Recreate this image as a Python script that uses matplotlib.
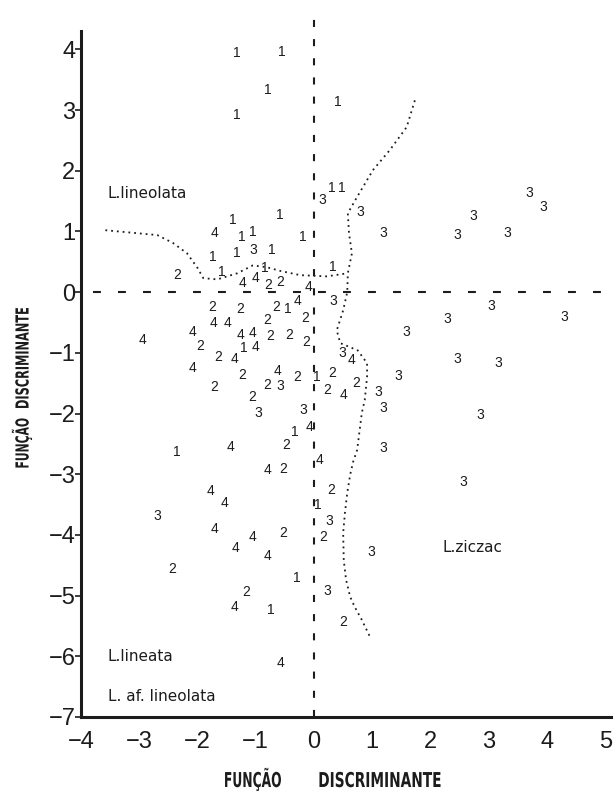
import numpy as np
import matplotlib
matplotlib.use("Agg")
import matplotlib.pyplot as plt
import matplotlib.transforms as mtransforms
from matplotlib.textpath import TextPath
from matplotlib.patches import PathPatch
from matplotlib.font_manager import FontProperties

# pontos, por grupo (1 a 4)
g1_x = [-1.32, -0.55, -0.79, -1.32, 0.41, 0.31, 0.48, -1.39, -0.58, -1.24, -1.05, -0.19, -1.73,
        -1.32, -0.72, -1.58, -0.84, 0.33, -0.45, -1.20, 0.05, -0.33, -2.35, 0.07, -0.29, -0.74]
g1_y = [3.94, 3.95, 3.33, 2.92, 3.13, 1.71, 1.71, 1.19, 1.27, 0.91, 0.99, 0.91, 0.58,
        0.64, 0.69, 0.33, 0.40, 0.41, -0.28, -0.92, -1.40, -2.31, -2.63, -3.51, -4.71, -5.24]

g2_x = [-2.35, -0.79, -0.58, -1.75, -1.27, -0.65, -0.81, -0.15, -0.75, -0.43, -0.14, -1.96, -1.65,
        -1.24, -0.29, 0.31, -1.72, -0.81, 0.22, 0.72, -1.06, -0.48, -0.53, 0.29, -0.53, 0.15,
        -2.44, -1.17, 0.50]
g2_y = [0.28, 0.12, 0.16, -0.25, -0.28, -0.25, -0.46, -0.43, -0.72, -0.71, -0.82, -0.89, -1.07,
        -1.37, -1.40, -1.33, -1.56, -1.53, -1.61, -1.50, -1.73, -2.52, -2.92, -3.26, -3.97, -4.04,
        -4.56, -4.94, -5.44]

g3_x = [0.15, 0.79, 1.18, 2.45, 2.73, 3.31, 3.69, 3.93, -1.05, 0.33, 3.05, 2.28, 4.29, 1.58,
        0.48, 2.45, 3.17, 1.44, -0.58, 1.10, 1.18, 2.85, -0.96, -0.19, 1.18, 2.56, -2.69, 0.26,
        0.98, 0.22]
g3_y = [1.52, 1.32, 0.97, 0.94, 1.25, 0.97, 1.63, 1.40, 0.69, -0.15, -0.23, -0.45, -0.41, -0.66,
        -1.00, -1.10, -1.17, -1.38, -1.55, -1.65, -1.91, -2.03, -1.99, -1.94, -2.57, -3.13, -3.69,
        -3.77, -4.28, -4.93]

g4_x = [-1.70, -1.22, -1.01, -0.10, -0.29, -1.72, -1.49, -2.08, -2.95, -1.27, -1.06, -1.37, -1.01,
        -2.08, -0.63, 0.50, 0.65, -0.07, -1.44, 0.10, -0.79, -1.78, -1.53, -1.70, -1.05, -1.34,
        -0.79, -1.37, -0.58]
g4_y = [0.97, 0.15, 0.23, 0.08, -0.15, -0.51, -0.51, -0.66, -0.79, -0.71, -0.68, -1.10, -0.90,
        -1.25, -1.30, -1.70, -1.12, -2.22, -2.55, -2.77, -2.93, -3.28, -3.47, -3.90, -4.04, -4.22,
        -4.35, -5.19, -6.11]

grupos = [("1", g1_x, g1_y), ("2", g2_x, g2_y), ("3", g3_x, g3_y), ("4", g4_x, g4_y)]

# linhas pontilhadas de separação
arco_x = [-3.58, -2.69, -2.42, -2.18, -2.00, -1.90, -1.66, -1.32, -1.05, -0.81, -0.58, -0.24, 0.22, 0.57]
arco_y = [1.02, 0.94, 0.81, 0.64, 0.40, 0.23, 0.21, 0.31, 0.44, 0.41, 0.35, 0.28, 0.26, 0.31]

curva_x = [1.73, 1.59, 1.30, 1.01, 0.74, 0.58, 0.60, 0.65, 0.58, 0.57, 0.50, 0.39, 0.45, 0.75, 0.91,
           0.91, 0.87, 0.82, 0.79, 0.74, 0.67, 0.62, 0.57, 0.53, 0.50, 0.51, 0.55, 0.62, 0.70, 0.82, 0.96]
curva_y = [3.16, 2.72, 2.34, 2.01, 1.57, 1.30, 0.97, 0.64, 0.31, 0.00, -0.30, -0.63, -0.84, -0.96, -1.17,
           -1.40, -1.78, -1.99, -2.22, -2.60, -2.80, -3.01, -3.31, -3.64, -3.97, -4.42, -4.74, -5.02,
           -5.19, -5.40, -5.68]

rotulos = [("L.lineolata", -3.55, 1.63), ("L.ziczac", 2.2, -4.2),
           ("L.lineata", -3.55, -6.01), ("L. af. lineolata", -3.53, -6.67)]

cor = "#1c1c1c"
fig = plt.figure(figsize=(6.13, 7.91), dpi=100)
ax = fig.add_axes([0.132, 0.0936, 0.868, 0.867])

for lab, xs, ys in grupos:
    for x, y in zip(xs, ys):
        ax.text(x, y, lab, ha="center", va="center", fontsize=10, color=cor,
                family="Liberation Sans")

ax.plot(arco_x, arco_y, linestyle=(0, (1, 2.2)), color=cor, lw=1.3)
ax.plot(curva_x, curva_y, linestyle=(0, (1, 2.2)), color=cor, lw=1.3)

ax.plot([-3.8, 5.0], [0, 0], linestyle=(0, (3.8, 8.2)), color=cor, lw=1.5)
ax.plot([0, 0], [-7, 4.6], linestyle=(0, (3.4, 5.8)), color=cor, lw=1.5, clip_on=False)

for txt, x, y in rotulos:
    ax.text(x, y, txt, ha="left", va="center", fontsize=11, color=cor, family="DejaVu Sans")

ax.set_xlim(-4, 5.13)
ax.set_ylim(-7, 4.3)
ax.set_xticks(np.arange(-4, 6))
ax.set_yticks(np.arange(-7, 5))
for s in ["top", "right"]:
    ax.spines[s].set_visible(False)
for s in ["left", "bottom"]:
    ax.spines[s].set_linewidth(2.2)
    ax.spines[s].set_color(cor)
ax.tick_params(axis="x", length=0, pad=10, labelsize=17, colors=cor)
ax.tick_params(axis="y", length=4, width=1.2, pad=0, labelsize=17, colors=cor)
for t in ax.get_xticklabels() + ax.get_yticklabels():
    t.set_family("Liberation Sans")


# títulos dos eixos em letra condensada (texto estreitado em x)
# cx = centro, cy = linha de base (em pixels a partir do topo)
def texto_estreito(txt, cx, cy, em, sx, rot=0):
    fp = FontProperties(family="DejaVu Sans", weight="bold")
    tp = TextPath((0, 0), txt, size=em, prop=fp)
    bb = tp.get_extents()
    dy = 0 if rot == 0 else -0.729 * em / 2
    tr = (mtransforms.Affine2D()
          .translate(-(bb.x0 + bb.x1) / 2, dy)
          .scale(sx, 1)
          .rotate_deg(rot)
          .translate(cx, 791 - cy))
    p = PathPatch(tr.transform_path(tp), facecolor=cor, edgecolor="none",
                  transform=mtransforms.IdentityTransform())
    fig.add_artist(p)


texto_estreito("FUNÇÃO", 253, 787, 20.5, 0.6)
texto_estreito("DISCRIMINANTE", 380, 787, 20.5, 0.67)
texto_estreito("FUNÇÃO", 22, 443, 18, 0.6, rot=90)
texto_estreito("DISCRIMINANTE", 22, 358, 18, 0.63, rot=90)

fig.savefig("out.png", dpi=100)
